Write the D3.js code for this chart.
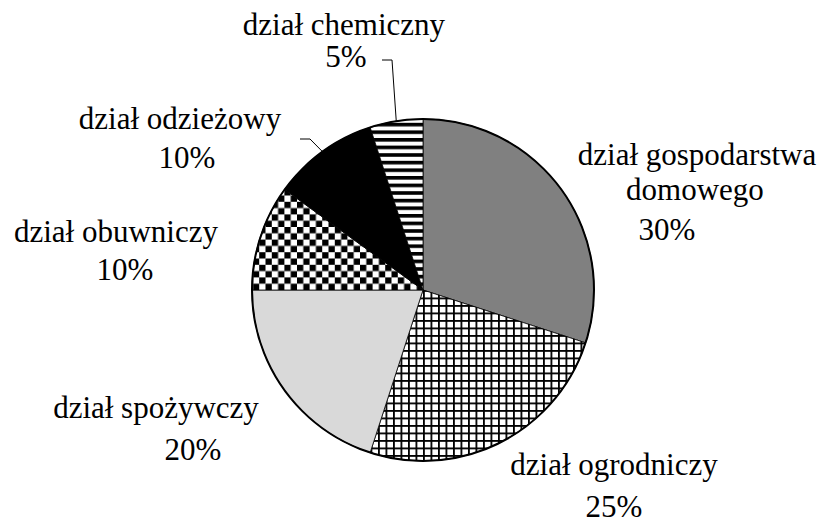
<!DOCTYPE html>
<html>
<head>
<meta charset="utf-8">
<script src="https://cdn.jsdelivr.net/npm/d3@7"></script>
<style>
  body { margin: 0; background: #fff; }
</style>
</head>
<body>
<div id="chart"></div>
<script>
// data
const categories = ["dział gospodarstwa domowego", "dział ogrodniczy", "dział spożywczy",
                    "dział obuwniczy", "dział odzieżowy", "dział chemiczny"];
const shares = [30, 25, 20, 10, 10, 5];
const percentLabels = ["30%", "25%", "20%", "10%", "10%", "5%"];

const svgWidth = 827;
const svgHeight = 518;
const cx = 423, cy = 290, radius = 171;

const svg = d3.select("#chart").append("svg")
    .attr("width", svgWidth)
    .attr("height", svgHeight);

// patterns for the black & white slices
const defs = svg.append("defs");

const stripes = defs.append("pattern")
    .attr("id", "stripes")
    .attr("patternUnits", "userSpaceOnUse")
    .attr("width", 8).attr("height", 7.6);
stripes.append("rect").attr("width", 8).attr("height", 7.6).attr("fill", "#fff");
stripes.append("rect").attr("width", 8).attr("height", 3.6).attr("fill", "#000");

const checker = defs.append("pattern")
    .attr("id", "checker")
    .attr("patternUnits", "userSpaceOnUse")
    .attr("width", 12.6).attr("height", 12.6);
checker.append("rect").attr("width", 12.6).attr("height", 12.6).attr("fill", "#fff");
checker.append("rect").attr("width", 6.3).attr("height", 6.3).attr("fill", "#000");
checker.append("rect").attr("x", 6.3).attr("y", 6.3).attr("width", 6.3).attr("height", 6.3).attr("fill", "#000");

const grid = defs.append("pattern")
    .attr("id", "grid")
    .attr("patternUnits", "userSpaceOnUse")
    .attr("width", 7.5).attr("height", 7.5);
grid.append("rect").attr("width", 7.5).attr("height", 7.5).attr("fill", "#fff");
grid.append("rect").attr("width", 7.5).attr("height", 1.8).attr("fill", "#000");
grid.append("rect").attr("width", 1.8).attr("height", 7.5).attr("fill", "#000");

const fills = ["#808080", "url(#grid)", "#d9d9d9", "url(#checker)", "#000", "url(#stripes)"];

// pie
const pie = d3.pie().sort(null).value(d => d)(shares);
const arc = d3.arc().innerRadius(0).outerRadius(radius);

const pieG = svg.append("g")
    .attr("transform", `translate(${cx}, ${cy})`);

pieG.selectAll("path")
    .data(pie)
    .enter()
    .append("path")
    .attr("d", arc)
    .attr("fill", (d, i) => fills[i])
    .attr("stroke", "#000")
    .attr("stroke-width", 0.8);

pieG.append("circle")
    .attr("r", radius)
    .attr("fill", "none")
    .attr("stroke", "#000")
    .attr("stroke-width", 2);

// label layout: text lines with their centre x and baseline y
const labelLines = [
    [["dział gospodarstwa", 697, 165], ["domowego", 695, 200], ["30%", 667, 240]],
    [["dział ogrodniczy", 614, 475], ["25%", 614, 517]],
    [["dział spożywczy", 156, 418], ["20%", 193, 460]],
    [["dział obuwniczy", 116, 242], ["10%", 125, 280]],
    [["dział odzieżowy", 180, 129], ["10%", 187, 168]],
    [["dział chemiczny", 344, 35], ["5%", 346, 67]]
];

const labelG = svg.append("g");
labelLines.forEach(lines => {
    lines.forEach(([t, x, y]) => {
        labelG.append("text")
            .attr("x", x)
            .attr("y", y)
            .attr("text-anchor", "middle")
            .attr("font-size", 31)
            .style("font-family", "Liberation Serif")
            .text(t);
    });
});

// leader lines from label to the middle of the slice edge
const leaders = [
    { slice: 4, from: [[300, 139], [310, 139]] },
    { slice: 5, from: [[382, 60], [392, 60]] }
];
const edge = d => {
    const a = (d.startAngle + d.endAngle) / 2;
    return [cx + radius * Math.sin(a), cy - radius * Math.cos(a)];
};
leaders.forEach(l => {
    svg.append("path")
        .attr("d", d3.line()(l.from.concat([edge(pie[l.slice])])))
        .attr("fill", "none")
        .attr("stroke", "#000")
        .attr("stroke-width", 1);
});
</script>
</body>
</html>
